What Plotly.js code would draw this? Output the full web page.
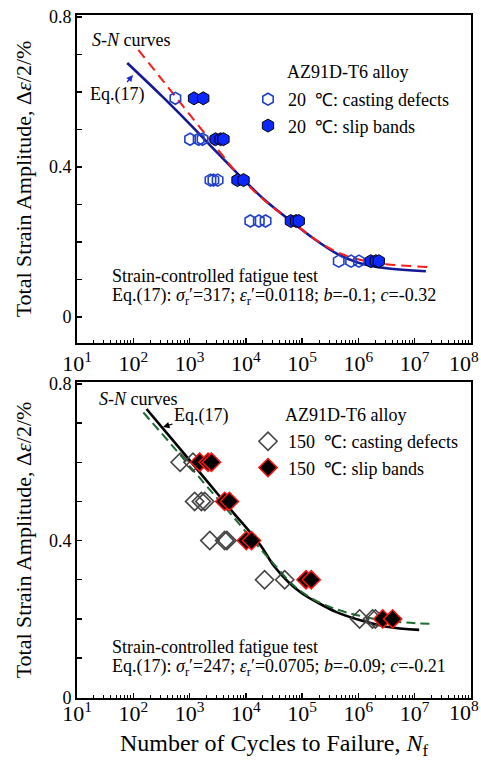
<!DOCTYPE html>
<html><head><meta charset="utf-8">
<script src="https://cdn.plot.ly/plotly-3.0.1.min.js"></script>
<style>html,body{margin:0;padding:0;background:#fff}#chart{width:481px;height:760px}</style>
</head><body><div id="chart"></div>
<script>
// ---------- Top panel: 20 °C ----------
const topCastN   = [560, 1020, 1450, 1700, 2350, 2650, 3150, 12000, 17000, 22400, 447000, 741000, 1020000];
const topCastAmp = [0.583, 0.474, 0.474, 0.474, 0.365, 0.365, 0.365, 0.256, 0.256, 0.256, 0.149, 0.149, 0.149];
const topSlipN   = [1200, 1750, 2900, 3550, 4000, 7100, 9100, 63000, 78000, 87000, 1660000, 2040000, 2300000];
const topSlipAmp = [0.583, 0.583, 0.474, 0.474, 0.474, 0.365, 0.365, 0.256, 0.256, 0.256, 0.149, 0.149, 0.149];
const topEqN     = [78, 316, 1000, 3160, 10000, 22400, 70800, 158000, 427000, 1000000, 3160000, 15800000];
const topEqAmp   = [0.677, 0.59, 0.515, 0.437, 0.36, 0.31, 0.25, 0.21, 0.168, 0.145, 0.130, 0.122];
const topSNN     = [123, 316, 1000, 3160, 7940, 20000, 70800, 200000, 501000, 1100000, 3160000, 19500000];
const topSNAmp   = [0.712, 0.635, 0.54, 0.447, 0.373, 0.315, 0.25, 0.2, 0.168, 0.152, 0.141, 0.133];

// ---------- Bottom panel: 150 °C ----------
const botCastN   = [680, 1150, 1230, 1620, 1860, 2290, 4200, 4600, 21500, 49000, 1050000, 1780000, 2000000];
const botCastAmp = [0.6, 0.6, 0.5, 0.5, 0.5, 0.4, 0.4, 0.4, 0.3, 0.3, 0.2, 0.2, 0.2];
const botSlipN   = [1510, 2130, 2450, 4200, 5100, 10200, 12600, 117000, 145000, 2700000, 4050000];
const botSlipAmp = [0.6, 0.6, 0.6, 0.5, 0.5, 0.4, 0.4, 0.3, 0.3, 0.2, 0.2];
const botEqN     = [172, 562, 1780, 5620, 17800, 31600, 56200, 100000, 182000, 398000, 1050000, 3160000, 12000000];
const botEqAmp   = [0.736, 0.648, 0.562, 0.476, 0.39, 0.335, 0.295, 0.265, 0.243, 0.218, 0.197, 0.18, 0.172];
const botSNN     = [151, 562, 1780, 5620, 17800, 31600, 67600, 158000, 398000, 1050000, 3160000, 20400000];
const botSNAmp   = [0.727, 0.633, 0.548, 0.465, 0.38, 0.34, 0.288, 0.25, 0.225, 0.208, 0.195, 0.187];

// ---------- Axis labels ----------
const xTickVals = [1e1, 1e2, 1e3, 1e4, 1e5, 1e6, 1e7, 1e8];
const xTickText = ['10<sup>1</sup>','10<sup>2</sup>','10<sup>3</sup>','10<sup>4</sup>','10<sup>5</sup>','10<sup>6</sup>','10<sup>7</sup>','10<sup>8</sup>'];
const yTickVals = [0, 0.4, 0.8];
const yTickText = ['0', '0.4', '0.8'];
const yMinorVals = [0.1, 0.2, 0.3, 0.5, 0.6, 0.7];
const yTitle = 'Total Strain Amplitude, Δ<i>ε</i>/2/%';
const xTitle = 'Number of Cycles to Failure, <i>N</i><sub>f</sub>';

const minorX = [];
for (let e = 1; e < 8; e++) for (let m = 2; m <= 9; m++) minorX.push(m * Math.pow(10, e));

const SERIF = 'Liberation Serif, Times New Roman, Times, serif';
const L = 77, R = 471, T = 15, B = 698;
const P = (px, py) => ({x: (px - L) / (R - L), y: (B - py) / (B - T)});

const traces = [
  {x: topEqN, y: topEqAmp, xaxis: 'x', yaxis: 'y', mode: 'lines', showlegend: false,
   line: {color: '#141a96', width: 2.6, shape: 'spline'}, hoverinfo: 'skip'},
  {x: topSNN, y: topSNAmp, xaxis: 'x', yaxis: 'y', mode: 'lines', showlegend: false,
   line: {color: '#ff1a1a', width: 2, dash: '10px,6px', shape: 'spline'}, hoverinfo: 'skip'},
  {x: topCastN, y: topCastAmp, xaxis: 'x', yaxis: 'y', mode: 'markers', name: '20\u00a0 ℃: casting defects',
   legend: 'legend', marker: {symbol: 'hexagon-open', size: 12, color: '#2040c8', line: {width: 1.6}}},
  {x: topSlipN, y: topSlipAmp, xaxis: 'x', yaxis: 'y', mode: 'markers', name: '20\u00a0 ℃: slip bands',
   legend: 'legend', marker: {symbol: 'hexagon', size: 13, color: '#0a28ff', line: {width: 1, color: '#000'}}},
  {x: botEqN, y: botEqAmp, xaxis: 'x2', yaxis: 'y2', mode: 'lines', showlegend: false,
   line: {color: '#000', width: 2.6, shape: 'spline'}, hoverinfo: 'skip'},
  {x: botSNN, y: botSNAmp, xaxis: 'x2', yaxis: 'y2', mode: 'lines', showlegend: false,
   line: {color: '#1e6b32', width: 2, dash: '9px,5px', shape: 'spline'}, hoverinfo: 'skip'},
  {x: botCastN, y: botCastAmp, xaxis: 'x2', yaxis: 'y2', mode: 'markers', name: '150\u00a0 ℃: casting defects',
   legend: 'legend2', marker: {symbol: 'diamond-open', size: 14, color: '#444', line: {width: 1.6}}},
  {x: botSlipN, y: botSlipAmp, xaxis: 'x2', yaxis: 'y2', mode: 'markers', name: '150\u00a0 ℃: slip bands',
   legend: 'legend2', marker: {symbol: 'diamond', size: 14, color: '#000', line: {width: 1.5, color: '#ff1010'}}}
];

// the last decade label sits against the page edge, so it is placed as an annotation
const nLabeled = xTickVals.length - 1;
function xax(anchor, title, standoff) {
  const a = {type: 'log', range: [0.9999, 8.0001], anchor: anchor, tickmode: 'array',
    tickvals: xTickVals.slice(0, nLabeled), ticktext: xTickText.slice(0, nLabeled),
    ticks: 'inside', ticklen: 5, tickwidth: 1.5, tickcolor: '#000',
    ticklabelstandoff: standoff,
    minor: {tickmode: 'array', tickvals: minorX, ticks: 'inside', ticklen: 3, tickwidth: 1, tickcolor: '#000', showgrid: false},
    showline: true, linewidth: 2, linecolor: '#000', mirror: true, showgrid: false, zeroline: false,
    tickfont: {family: SERIF, size: 22, color: '#000'}};
  if (title) a.title = {text: title, font: {family: SERIF, size: 24, color: '#000'}, standoff: 16};
  return a;
}
function yax(anchor, domain, range) {
  return {domain: domain, range: range, anchor: anchor, tickmode: 'array', tickvals: yTickVals, ticktext: yTickText,
    ticks: 'inside', ticklen: 5, tickwidth: 1.5, tickcolor: '#000',
    minor: {tickmode: 'array', tickvals: yMinorVals, ticks: 'inside', ticklen: 5, tickwidth: 1.5, tickcolor: '#000', showgrid: false},
    showline: true, linewidth: 2, linecolor: '#000', mirror: true, showgrid: false, zeroline: false,
    tickfont: {family: SERIF, size: 18, color: '#000'},
    title: {text: yTitle, font: {family: SERIF, size: 22, color: '#000'}, standoff: 11}};
}

const tf = {family: SERIF, size: 18, color: '#000'};
function txt(px, py, text, extra) {
  const p = P(px, py);
  return Object.assign({xref: 'paper', yref: 'paper', x: p.x, y: p.y, text: text, showarrow: false,
    xanchor: 'left', yanchor: 'middle', font: tf}, extra || {});
}
function arrowAnn(tipx, tipy, cx, cy, text, color) {
  const p = P(tipx, tipy);
  return {xref: 'paper', yref: 'paper', x: p.x, y: p.y, ax: cx - tipx, ay: cy - tipy, text: text,
    showarrow: true, arrowhead: 2, arrowsize: 1, arrowwidth: 1.3, arrowcolor: color, font: tf};
}
const lastTick = xTickText[nLabeled];
const tickFont = {family: SERIF, size: 22, color: '#000'};

const eqTop = 'Eq.(17): <i>σ</i><sub>r</sub>′=317; <i>ε</i><sub>r</sub>′=0.0118; <i>b</i>=-0.1; <i>c</i>=-0.32';
const eqBot = 'Eq.(17): <i>σ</i><sub>r</sub>′=247; <i>ε</i><sub>r</sub>′=0.0705; <i>b</i>=-0.09; <i>c</i>=-0.21';

const layout = {
  width: 481, height: 760,
  margin: {l: L, r: 481 - R, t: T, b: 760 - B},
  paper_bgcolor: '#fff', plot_bgcolor: '#fff',
  font: {family: SERIF, color: '#000'},
  xaxis: xax('y', null, 0),
  yaxis: yax('x', [0.5198, 1], [-0.069, 0.805]),
  xaxis2: xax('y2', xTitle, -5),
  yaxis2: yax('x2', [0, 0.4627], [-0.002, 0.805]),
  legend: {x: P(248, 0).x, y: P(0, 81).y, xanchor: 'left', yanchor: 'top', bgcolor: 'rgba(0,0,0,0)',
    font: tf, itemwidth: 30, tracegroupgap: 0},
  legend2: {x: P(248, 0).x, y: P(0, 423).y, xanchor: 'left', yanchor: 'top', bgcolor: 'rgba(0,0,0,0)',
    font: tf, itemwidth: 30, tracegroupgap: 0},
  annotations: [
    txt(90, 40, '<i>S-N</i> curves'),
    arrowAnn(133, 75, 117, 94, 'Eq.(17)', '#1a2ad0'),
    txt(285, 72, 'AZ91D-T6 alloy'),
    txt(110, 276, 'Strain-controlled fatigue test'),
    txt(110, 296, eqTop),
    txt(97, 399, '<i>S-N</i> curves'),
    arrowAnn(163, 427, 201, 415, 'Eq.(17)', '#000'),
    txt(283, 415, 'AZ91D-T6 alloy'),
    txt(110, 647, 'Strain-controlled fatigue test'),
    txt(110, 667, eqBot),
    txt(480, 362, lastTick, {xanchor: 'right', font: tickFont, borderpad: 0}),
    txt(480, 711, lastTick, {xanchor: 'right', font: tickFont, borderpad: 0})
  ]
};

Plotly.newPlot('chart', traces, layout, {staticPlot: true, displayModeBar: false});
</script>
</body></html>
